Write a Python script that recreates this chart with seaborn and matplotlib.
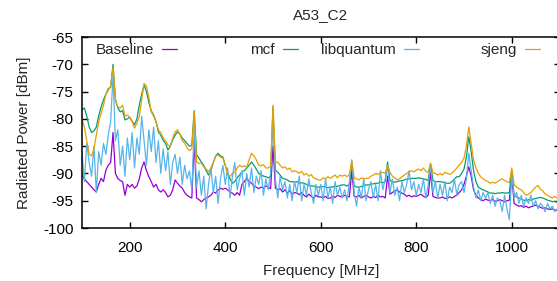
import numpy as np
import matplotlib
matplotlib.use('Agg')
import matplotlib.pyplot as plt
from matplotlib.legend import Legend
import seaborn as sns

# Frequency axis, one sample every 5 MHz from 100 to 1100
freq = np.arange(100, 1101, 5)

baseline = [
    -90.3, -91.0, -91.5, -92.0, -92.5, -93.0, -93.4, -92.0, -90.9, -91.5,
    -89.4, -88.5, -88.0, -82.5, -90.0, -90.9, -91.3, -91.5, -94.0, -92.0,
    -92.5, -92.0, -92.7, -92.3, -91.0, -89.0, -87.9, -89.5, -90.6, -91.5,
    -92.5, -92.0, -93.0, -93.4, -93.0, -93.5, -94.3, -94.0, -93.0, -91.2,
    -91.8, -92.3, -92.7, -93.5, -94.0, -94.3, -94.5, -84.0, -94.5, -94.8,
    -95.2, -94.8, -94.5, -94.3, -94.0, -93.4, -93.6, -93.0, -92.7, -92.9,
    -92.7, -93.0, -93.4, -93.6, -94.0, -93.5, -94.0, -92.0, -91.5, -90.9,
    -91.5, -91.8, -92.3, -92.5, -92.8, -92.5, -92.7, -92.3, -92.5, -92.8,
    -85.0, -92.7, -93.0, -92.8, -93.4, -93.0, -93.6, -93.2, -93.8, -93.5,
    -93.6, -93.9, -93.5, -94.0, -94.3, -93.8, -94.2, -94.5, -94.0, -94.3,
    -94.3, -94.5, -94.2, -94.6, -94.5, -94.2, -94.4, -94.0, -94.2, -94.3,
    -94.0, -94.2, -94.3, -89.5, -94.2, -94.3, -94.0, -94.5, -94.2, -94.0,
    -94.3, -94.5, -94.2, -94.4, -94.0, -94.3, -94.2, -94.5, -90.5, -93.8,
    -93.5, -93.2, -93.0, -93.4, -93.6, -93.8, -94.2, -94.0, -94.3, -94.1,
    -94.2, -94.0, -93.8, -94.2, -94.4, -94.0, -89.8, -94.2, -94.4, -94.5,
    -94.5, -94.3, -94.6, -94.5, -94.3, -94.5, -94.2, -94.0, -93.5, -93.0,
    -92.0, -90.5, -88.8, -90.5, -93.0, -94.0, -94.5, -94.8, -95.0, -94.7,
    -94.9, -95.0, -94.8, -95.1, -95.0, -94.8, -95.0, -95.2, -95.0, -94.9,
    -90.5, -95.5, -95.8, -96.0, -95.9, -96.2, -96.0, -96.3, -96.1, -96.0,
    -95.8, -96.0, -96.2, -96.4, -96.3, -96.5, -96.6, -96.5, -96.7, -96.8,
    -96.9,
]

mcf = [
    -78.4, -78.0, -79.5, -81.5, -82.5, -82.2, -81.5, -79.5, -77.8, -76.5,
    -75.5, -74.5, -74.2, -70.0, -76.5, -78.0, -78.7, -78.5, -80.2, -80.0,
    -79.7, -80.5, -81.1, -80.0, -77.5, -75.5, -73.8, -75.0, -77.0, -78.5,
    -79.3, -80.5, -82.4, -83.0, -83.9, -84.5, -85.7, -85.0, -83.8, -83.0,
    -82.4, -82.8, -83.5, -84.0, -84.5, -85.0, -84.8, -78.5, -86.6, -87.2,
    -87.9, -88.5, -89.5, -90.3, -89.5, -88.0, -86.8, -86.3, -86.8, -87.0,
    -88.5, -90.0, -91.0, -91.8, -91.5, -90.8, -90.3, -89.7, -89.5, -89.0,
    -88.5, -87.9, -88.5, -89.2, -90.0, -90.2, -90.5, -90.6, -90.8, -90.5,
    -77.8, -89.4, -89.8, -90.3, -90.9, -91.0, -91.2, -91.5, -91.5, -91.6,
    -91.5, -91.8, -91.7, -91.8, -92.0, -92.2, -92.3, -92.3, -92.5, -92.5,
    -92.5, -92.4, -92.5, -92.6, -92.5, -92.5, -92.3, -92.4, -92.2, -92.1,
    -92.1, -92.3, -92.0, -88.0, -92.3, -92.5, -92.5, -92.4, -92.3, -92.1,
    -92.1, -92.0, -91.9, -91.8, -91.8, -91.6, -91.7, -91.5, -87.9, -91.3,
    -91.5, -91.6, -91.5, -91.4, -91.3, -91.2, -91.0, -91.0, -90.9, -90.9,
    -90.9, -90.8, -90.9, -91.0, -91.1, -91.3, -88.3, -91.3, -91.5, -91.5,
    -91.5, -91.6, -91.7, -91.8, -91.8, -91.5, -91.0, -90.6, -90.6, -90.0,
    -89.2, -87.0, -83.3, -86.0, -89.5, -91.5, -92.5, -92.8, -93.0, -93.2,
    -93.4, -93.6, -93.6, -93.7, -93.6, -93.6, -93.5, -93.6, -93.6, -93.5,
    -89.5, -94.0, -94.3, -94.5, -94.7, -94.9, -95.0, -94.8, -94.9, -94.7,
    -94.6, -94.5, -94.4, -94.5, -94.7, -94.9, -95.0, -95.2, -95.1, -95.3,
    -95.4,
]

libquantum = [
    -86.0, -91.5, -84.5, -88.0, -90.5, -85.0, -93.5, -86.0, -88.5, -84.5,
    -86.5, -83.0, -80.5, -72.0, -84.0, -82.0, -88.5, -85.0, -90.5, -83.5,
    -87.5, -82.5, -89.0, -83.5, -86.5, -79.5, -84.0, -88.5, -82.0, -86.0,
    -81.5, -88.0, -84.0, -90.0, -85.5, -89.5, -86.0, -92.0, -88.0, -86.5,
    -90.0, -87.0, -92.0, -88.5, -91.0, -89.5, -93.0, -82.0, -92.5, -89.5,
    -94.0, -90.5, -96.5, -92.0, -89.0, -93.5, -90.5, -95.5, -91.0, -88.5,
    -92.0, -89.0, -94.5, -90.5, -88.0, -93.0, -91.0, -89.5, -94.0, -90.0,
    -92.5, -89.0, -93.5, -90.5, -92.0, -89.5, -94.0, -91.0, -93.0, -90.0,
    -80.0, -91.0, -94.5, -90.5, -93.0, -91.5, -94.5, -92.0, -95.0, -91.5,
    -93.5, -90.5, -95.0, -92.0, -94.0, -91.0, -93.5, -95.5, -92.0, -94.0,
    -92.0, -95.0, -91.0, -94.5, -92.5, -95.5, -91.5, -94.0, -92.5, -94.5,
    -93.0, -95.0, -91.5, -87.5, -93.5, -96.0, -92.5, -94.5, -91.0, -95.0,
    -93.0, -91.5, -94.5, -92.0, -95.0, -89.5, -93.0, -91.0, -88.5, -93.5,
    -91.0, -94.0, -92.5, -95.0, -91.5, -93.5, -92.0, -89.5, -93.0, -91.5,
    -94.0, -92.0, -93.5, -91.0, -94.5, -92.0, -88.5, -93.5, -91.5, -94.5,
    -92.0, -94.0, -91.5, -95.0, -92.5, -93.5, -91.0, -94.0, -92.0, -91.5,
    -93.5, -91.0, -86.3, -89.5, -92.5, -94.5, -93.0, -95.0, -93.5, -94.5,
    -93.5, -95.5, -94.0, -96.0, -94.5, -95.0, -97.0, -94.0, -96.5, -98.5,
    -90.0, -94.5, -93.5, -95.5, -94.0, -96.0, -94.5, -95.5, -94.0, -96.0,
    -95.0, -96.5, -95.5, -96.0, -97.0, -95.5, -96.5, -96.0, -97.0, -96.5,
    -97.0,
]

sjeng = [
    -80.0, -81.5, -84.0, -86.5, -86.8, -85.5, -83.0, -80.5, -79.0, -77.5,
    -75.5, -74.8, -74.0, -70.5, -76.5, -77.8, -78.0, -77.5, -79.5, -79.3,
    -79.7, -80.5, -81.7, -80.8, -79.5, -76.5, -73.5, -74.0, -76.0, -78.7,
    -79.5, -80.5, -82.0, -82.5, -83.5, -84.0, -84.8, -85.0, -83.5, -82.4,
    -82.0, -82.8, -84.0, -84.5, -85.3, -85.8, -85.5, -78.7, -87.9, -88.2,
    -88.1, -88.8, -89.2, -89.7, -89.0, -88.0, -86.8, -86.6, -87.0, -87.2,
    -88.5, -90.3, -90.5, -90.0, -89.8, -89.0, -88.5, -88.8, -88.6, -88.9,
    -87.5, -86.3, -86.8, -87.5, -88.5, -88.6, -88.4, -89.0, -89.0, -88.7,
    -77.5, -88.0, -87.9, -88.5, -89.0, -88.8, -89.3, -89.0, -89.7, -89.5,
    -89.7, -90.0, -89.6, -90.3, -90.0, -90.5, -90.2, -90.8, -91.0, -91.2,
    -91.2, -90.8, -91.0, -90.6, -90.9, -90.6, -90.3, -90.8, -90.3, -90.5,
    -90.3, -90.6, -90.2, -87.7, -90.8, -91.0, -91.2, -90.8, -91.0, -90.9,
    -90.9, -90.5, -90.3, -90.0, -90.2, -89.9, -89.8, -90.0, -88.5, -89.8,
    -90.5, -90.8, -91.2, -91.0, -90.6, -90.3, -90.0, -89.7, -89.5, -89.7,
    -89.4, -89.2, -89.5, -89.0, -89.6, -89.8, -88.1, -89.9, -90.0, -90.3,
    -90.0, -90.3, -89.8, -90.0, -90.2, -89.9, -89.5, -89.0, -88.5, -88.0,
    -87.2, -85.0, -81.5, -84.5, -87.5, -89.0, -90.0, -90.6, -91.0, -91.3,
    -91.5, -91.8, -91.6, -91.8, -91.5, -91.2, -91.0, -91.3, -91.5, -91.7,
    -89.0, -92.0, -92.5, -92.8, -93.0, -93.5, -94.0, -93.8, -93.5, -93.0,
    -92.5, -92.2, -92.9, -93.2, -93.8, -94.0, -94.3, -94.5, -94.2, -94.5,
    -94.8,
]

series = [('Baseline', baseline, '#9400d3'),
          ('mcf', mcf, '#009e73'),
          ('libquantum', libquantum, '#56b4e9'),
          ('sjeng', sjeng, '#e69f00')]
# right end of each key entry, in axes fraction (gnuplot style key)
key_ends = [0.199, 0.452, 0.706, 0.959]

sns.set_style('ticks')
plt.rcParams['font.family'] = ['Liberation Sans', 'DejaVu Sans']
plt.rcParams['axes.unicode_minus'] = False
fs = 11

fig = plt.figure(figsize=(5.57, 2.81), dpi=100)
ax = fig.add_axes([0.1472, 0.1886, 0.8573, 0.6797])

handles = []
for name, vals, col in series:
    sns.lineplot(x=freq, y=vals, color=col, lw=0.9, ax=ax,
                 estimator=None, sort=False)
    handles.append(ax.lines[-1])

ax.set_xlim(100, 1100)
ax.set_ylim(-100, -65)
ax.set_xticks([200, 400, 600, 800, 1000])
ax.set_yticks(np.arange(-100, -64, 5))
ax.tick_params(direction='in', length=4, width=1, top=True, right=True,
               labelsize=fs, pad=6, colors='black')
ax.tick_params(axis='x', pad=9)
for s in ax.spines.values():
    s.set_linewidth(1.1)
    s.set_color('black')
ax.spines['right'].set_visible(False)

ax.set_title('A53_C2', fontsize=fs, pad=13)
ax.set_xlabel('Frequency [MHz]', fontsize=fs, labelpad=7)
ax.set_ylabel('Radiated Power [dBm]', fontsize=fs, labelpad=9)

for (name, vals, col), h, xe in zip(series, handles, key_ends):
    leg = Legend(ax, [h], [name], loc='center right', bbox_to_anchor=(xe, 0.932),
                 markerfirst=False, frameon=False, fontsize=fs,
                 handlelength=1.0, handletextpad=0.5, borderpad=0,
                 borderaxespad=0)
    ax.add_artist(leg)

fig.savefig('out.png', dpi=100)
